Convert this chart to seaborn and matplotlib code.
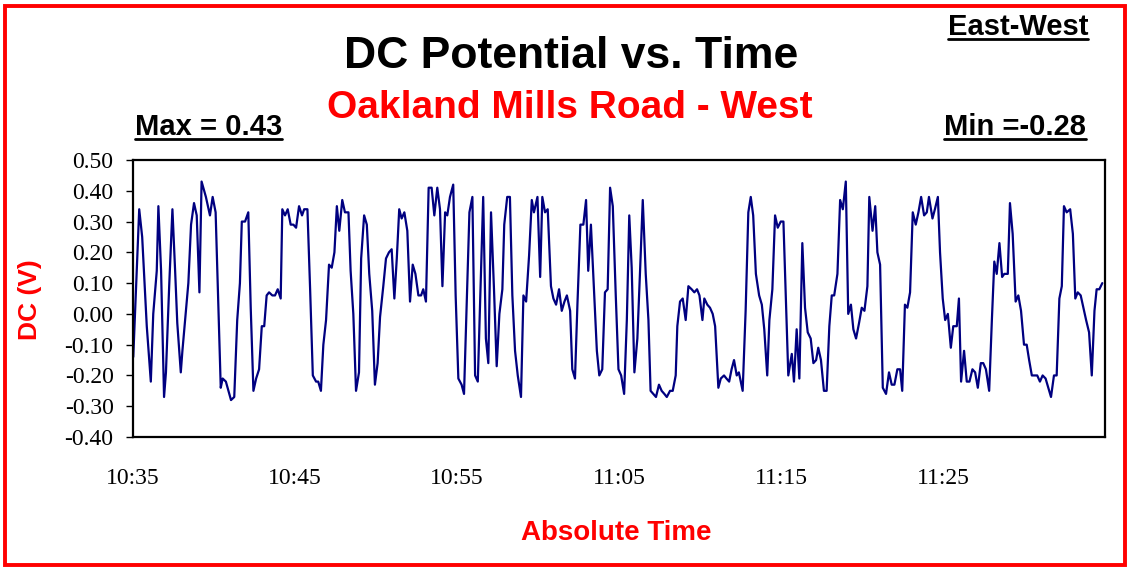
import numpy as np
import pandas as pd
import matplotlib
matplotlib.use("Agg")
from matplotlib import pyplot as plt
import matplotlib.dates as mdates
from matplotlib.lines import Line2D
from matplotlib.patches import Rectangle
from matplotlib.transforms import IdentityTransform
import seaborn as sns

# seconds after 10:35:00 and the DC potential (V) at that moment
secs = [1, 23, 34, 51, 66, 75, 88, 94, 104, 115,
        122, 134, 146, 156, 164, 177, 183, 196, 205, 215,
        226, 236, 246, 254, 270, 285, 295, 306, 325, 332,
        344, 363, 375, 386, 396, 403, 415, 427, 436, 446,
        456, 467, 477, 486, 495, 504, 516, 526, 536, 547,
        553, 563, 573, 584, 594, 604, 615, 626, 634, 646,
        656, 666, 678, 686, 696, 705, 715, 726, 736, 746,
        755, 764, 775, 785, 798, 806, 816, 826, 837, 845,
        856, 866, 875, 886, 896, 906, 915, 927, 937, 948,
        958, 968, 977, 986, 995, 1005, 1016, 1026, 1036, 1046,
        1057, 1067, 1075, 1085, 1095, 1106, 1116, 1127, 1137, 1146,
        1156, 1164, 1174, 1186, 1195, 1205, 1217, 1226,
        1246, 1257, 1267, 1277, 1288, 1297, 1307, 1316, 1326, 1337,
        1347, 1357, 1368, 1375, 1386, 1396, 1405, 1415, 1425, 1437,
        1446, 1456, 1467, 1477, 1485, 1498, 1508, 1516, 1526, 1536,
        1548, 1557, 1567, 1578, 1588, 1598, 1607, 1619, 1627, 1637,
        1646, 1657, 1668, 1678, 1686, 1696, 1708, 1718, 1727, 1738,
        1748, 1758, 1767, 1777, 1788, 1798, 1808, 1819, 1829, 1838,
        1847, 1857, 1868, 1878, 1888, 1899, 1909, 1917, 1927, 1937,
        1948, 1958, 1968, 1977, 1989, 1999, 2010, 2016, 2026, 2036,
        2047, 2057, 2069, 2079, 2089, 2098, 2109, 2116, 2127, 2137,
        2147, 2156, 2168, 2177, 2189, 2198, 2208, 2217, 2226, 2236,
        2244, 2258, 2269, 2279, 2288, 2297, 2307, 2319, 2329, 2338,
        2349, 2357, 2368, 2378, 2388, 2399, 2409, 2427,
        2440, 2448, 2458, 2468, 2479, 2489, 2499, 2510, 2520, 2530,
        2538, 2548, 2559, 2569, 2579, 2588, 2597, 2609, 2619, 2629,
        2640, 2649, 2659, 2668, 2678, 2689, 2699, 2709, 2720, 2727,
        2739, 2749, 2757, 2767, 2777, 2789, 2800, 2810, 2820, 2831,
        2841, 2849, 2859, 2868, 2878, 2888, 2899, 2909, 2919, 2930,
        2940, 2948, 2961, 2970, 2981, 2989, 2999, 3008, 3018, 3029,
        3038, 3051, 3059, 3067, 3078, 3088, 3098, 3109, 3119, 3129,
        3140, 3149, 3159, 3171, 3181, 3190, 3199, 3209, 3219, 3227,
        3240, 3248, 3258, 3269, 3279, 3289, 3300, 3310, 3319, 3329,
        3338, 3349, 3359, 3369, 3380, 3390, 3400, 3411, 3421, 3431,
        3440, 3448, 3458, 3471, 3481, 3490, 3499, 3510, 3520, 3530,
        3541, 3551, 3561, 3569, 3579, 3590]

dc = [-0.14, 0.34, 0.25, -0.04, -0.22, 0.00, 0.14, 0.35, 0.14, -0.27,
      -0.19, 0.09, 0.34, 0.14, -0.03, -0.19, -0.12, 0.01, 0.10, 0.29,
      0.36, 0.32, 0.07, 0.43, 0.38, 0.32, 0.38, 0.33, -0.24, -0.21,
      -0.22, -0.28, -0.27, -0.02, 0.10, 0.30, 0.30, 0.33, 0.02, -0.25,
      -0.21, -0.18, -0.04, -0.04, 0.06, 0.07, 0.06, 0.06, 0.08, 0.05,
      0.34, 0.32, 0.34, 0.29, 0.29, 0.28, 0.35, 0.32, 0.34, 0.34,
      0.08, -0.20, -0.22, -0.22, -0.25, -0.10, -0.02, 0.16, 0.15, 0.20,
      0.35, 0.27, 0.37, 0.33, 0.33, 0.14, 0.00, -0.25, -0.19, 0.18,
      0.32, 0.29, 0.13, 0.01, -0.23, -0.16, -0.01, 0.09, 0.18, 0.20,
      0.21, 0.05, 0.18, 0.34, 0.31, 0.33, 0.27, 0.04, 0.16, 0.13,
      0.06, 0.06, 0.08, 0.04, 0.41, 0.41, 0.32, 0.41, 0.34, 0.09,
      0.33, 0.32, 0.38, 0.42, 0.06, -0.21, -0.23, -0.26,
      0.33, 0.38, -0.20, -0.22, 0.11, 0.38, -0.08, -0.16, 0.33, 0.08,
      -0.17, 0.00, 0.08, 0.29, 0.38, 0.38, 0.06, -0.12, -0.20, -0.27,
      0.06, 0.04, 0.19, 0.37, 0.33, 0.38, 0.12, 0.38, 0.33, 0.34,
      0.09, 0.05, 0.03, 0.08, 0.01, 0.04, 0.06, 0.01, -0.18, -0.21,
      0.03, 0.29, 0.29, 0.37, 0.14, 0.29, 0.07, -0.12, -0.20, -0.18,
      0.07, 0.08, 0.41, 0.35, 0.06, -0.18, -0.20, -0.26, -0.02, 0.32,
      0.15, -0.19, -0.08, 0.14, 0.37, 0.13, -0.02, -0.25, -0.26, -0.27,
      -0.23, -0.25, -0.26, -0.27, -0.25, -0.25, -0.20, -0.04, 0.04, 0.05,
      -0.02, 0.09, 0.08, 0.07, 0.08, 0.06, -0.02, 0.05, 0.03, 0.02,
      0.00, -0.04, -0.24, -0.21, -0.20, -0.21, -0.22, -0.18, -0.15, -0.20,
      -0.19, -0.25, 0.01, 0.33, 0.38, 0.32, 0.13, 0.06, 0.03, -0.05,
      -0.20, -0.02, 0.08, 0.32, 0.28, 0.30, 0.30, -0.20,
      -0.13, -0.22, -0.05, -0.21, 0.23, 0.02, -0.06, -0.08, -0.16, -0.15,
      -0.11, -0.15, -0.25, -0.25, -0.04, 0.06, 0.06, 0.13, 0.37, 0.34,
      0.43, 0.00, 0.03, -0.05, -0.08, -0.03, 0.02, 0.01, 0.09, 0.38,
      0.27, 0.35, 0.20, 0.16, -0.24, -0.26, -0.19, -0.23, -0.23, -0.18,
      -0.18, -0.25, 0.03, 0.02, 0.07, 0.33, 0.29, 0.33, 0.38, 0.32,
      0.33, 0.38, 0.31, 0.34, 0.38, 0.20, 0.05, -0.02, 0.00, -0.11,
      -0.04, -0.04, 0.05, -0.22, -0.12, -0.22, -0.22, -0.18, -0.19, -0.24,
      -0.16, -0.16, -0.18, -0.25, -0.02, 0.17, 0.13, 0.23, 0.12, 0.13,
      0.13, 0.36, 0.26, 0.04, 0.06, 0.01, -0.10, -0.10, -0.15, -0.20,
      -0.20, -0.20, -0.22, -0.20, -0.21, -0.24, -0.27, -0.20, -0.20, 0.05,
      0.09, 0.35, 0.33, 0.34, 0.26, 0.05, 0.07, 0.06, 0.02, -0.02,
      -0.06, -0.20, 0.01, 0.08, 0.08, 0.10]

start = pd.Timestamp("2000-01-01 10:35:00")
end = pd.Timestamp("2000-01-01 11:35:00")
xtick_times = ["10:35", "10:45", "10:55", "11:05", "11:15", "11:25"]
yticks = [-0.4, -0.3, -0.2, -0.1, 0.0, 0.1, 0.2, 0.3, 0.4, 0.5]

df = pd.DataFrame({"time": start + pd.to_timedelta(secs, unit="s"), "dc": dc})

sns.set_style("white")
plt.rcParams['font.family'] = ['Liberation Sans', 'DejaVu Sans']
plt.rcParams['text.color'] = 'black'
plt.rcParams['xtick.color'] = 'black'
plt.rcParams['ytick.color'] = 'black'

fig = plt.figure(figsize=(11.35, 5.71), dpi=100)
ax = fig.add_axes([133 / 1135, 1 - 437 / 571, 972 / 1135, 277 / 571])

sns.lineplot(data=df, x="time", y="dc", color="#000080", linewidth=1.6, ax=ax)

ax.set_xlim(start, end)
ax.set_ylim(-0.4, 0.5)
ax.set_xticks([pd.Timestamp("2000-01-01 " + t) for t in xtick_times])
ax.xaxis.set_major_formatter(mdates.DateFormatter("%H:%M"))
ax.set_yticks(yticks)
ax.set_yticklabels(["%.2f" % v for v in yticks])
ax.set_xlabel("")
ax.set_ylabel("")

for lab in ax.get_xticklabels() + ax.get_yticklabels():
    lab.set_family("Liberation Serif")
    lab.set_fontsize(17)
    lab.set_color("black")
ax.tick_params(axis="y", direction="out", length=5, width=1, pad=9, left=True, color="black")
ax.tick_params(axis="x", length=0, pad=22)

for sp in ax.spines.values():
    sp.set_color("black")
    sp.set_linewidth(1.6)

# texts around the plot
fig.text(571 / 1135, 1 - 68 / 571, "DC Potential vs. Time", fontsize=32,
         fontweight="bold", ha="center", va="baseline", color="black")
fig.text(570 / 1135, 1 - 118 / 571, "Oakland Mills Road - West", fontsize=28,
         fontweight="bold", ha="center", va="baseline", color="red")
t_max = fig.text(135 / 1135, 1 - 135 / 571, "Max = 0.43", fontsize=21,
                 fontweight="bold", ha="left", va="baseline", color="black")
t_min = fig.text(1086 / 1135, 1 - 135 / 571, "Min =-0.28", fontsize=21,
                 fontweight="bold", ha="right", va="baseline", color="black")
t_ew = fig.text(1088 / 1135, 1 - 35 / 571, "East-West", fontsize=21,
                fontweight="bold", ha="right", va="baseline", color="black")
fig.text(30 / 1135, 1 - 300 / 571, "DC (V)", fontsize=19, fontweight="bold",
         color="red", rotation=90, ha="center", va="center")
fig.text(616 / 1135, 1 - 540 / 571, "Absolute Time", fontsize=20,
         fontweight="bold", color="red", ha="center", va="baseline")

# red frame round the whole chart
fig.add_artist(Rectangle((5 / 1135, 6 / 571), 1120 / 1135, 559 / 571,
                         transform=fig.transFigure, fill=False,
                         edgecolor="red", linewidth=2.8))

# underline the three small headings
fig.canvas.draw()
renderer = fig.canvas.get_renderer()
for t in [t_max, t_min, t_ew]:
    bb = t.get_window_extent(renderer)
    fig.add_artist(Line2D([bb.x0, bb.x1], [bb.y0 + 2, bb.y0 + 2],
                          transform=IdentityTransform(), color="black", linewidth=2))

fig.savefig("out.png", dpi=100)
